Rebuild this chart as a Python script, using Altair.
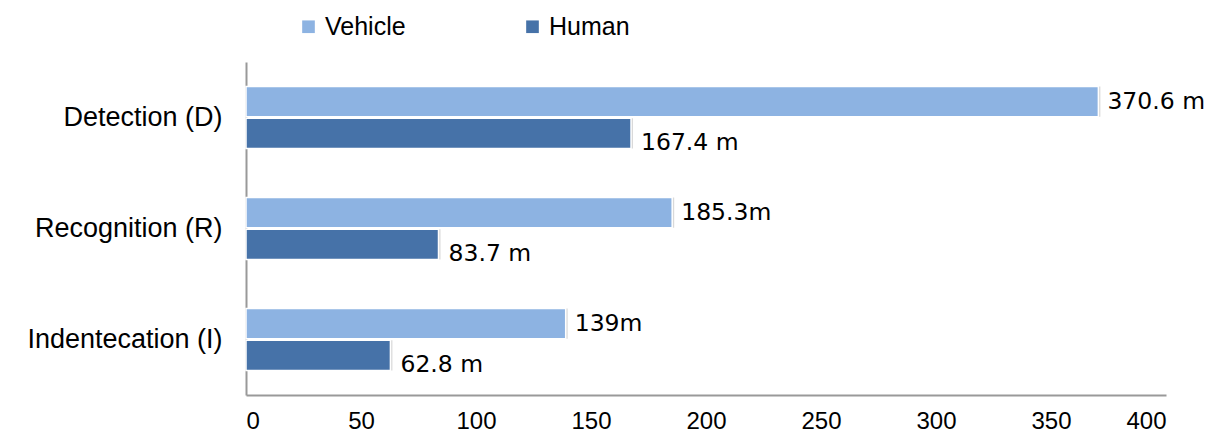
import altair as alt
import pandas as pd

categories = ["Detection (D)", "Recognition (R)", "Indentecation (I)"]
vehicle = [370.6, 185.3, 139.0]
human = [167.4, 83.7, 62.8]
vehicle_labels = ["370.6 m", "185.3m", "139m"]
human_labels = ["167.4 m", "83.7 m", "62.8 m"]
series = ["Vehicle", "Human"]
colors = ["#8DB3E2", "#4672A8"]

rows = []
for c, v, vl in zip(categories, vehicle, vehicle_labels):
    rows.append({"cat": c, "series": "Vehicle", "value": v, "label": vl})
for c, h, hl in zip(categories, human, human_labels):
    rows.append({"cat": c, "series": "Human", "value": h, "label": hl})
df = pd.DataFrame(rows)

y = alt.Y("cat:N", sort=categories, title=None,
          scale=alt.Scale(paddingInner=0.44, paddingOuter=0.22),
          axis=alt.Axis(labelFont="Liberation Sans", labelFontSize=27, labelColor="#000000",
                        labelPadding=24, ticks=False, domainColor="#999999", domainWidth=2,
                        labelLimit=400))
yoff = alt.YOffset("series:N", sort=series, scale=alt.Scale(paddingInner=0.05))
x = alt.X("value:Q", title=None,
          scale=alt.Scale(domain=[0, 400], nice=False),
          axis=alt.Axis(values=[0, 50, 100, 150, 200, 250, 300, 350, 400], grid=False, ticks=False,
                        labelFont="Liberation Sans", labelFontSize=24, labelColor="#000000",
                        labelPadding=14, domainColor="#999999", domainWidth=2))
color = alt.Color("series:N", sort=series,
                  scale=alt.Scale(domain=series, range=colors),
                  legend=alt.Legend(title=None, orient="none", legendX=50, legendY=-48,
                                    direction="horizontal", symbolType="square", symbolSize=160,
                                    symbolStrokeWidth=0, labelFont="Liberation Sans",
                                    labelFontSize=25, labelColor="#000000", columnPadding=114,
                                    labelOffset=4))

base = alt.Chart(df)

shadow = base.mark_bar(color="#000000", opacity=0.15, xOffset=2, yOffset=3).encode(
    x=x, y=y, yOffset=yoff)
bars = base.mark_bar(stroke="white", strokeWidth=1.5).encode(
    x=x, y=y, yOffset=yoff, color=color)
vtext = base.transform_filter(alt.datum.series == "Vehicle").mark_text(
    align="left", baseline="middle", dx=9, dy=0, font="DejaVu Sans", fontSize=23.5, color="#000000"
).encode(x=x, y=y, yOffset=yoff, text="label:N")
htext = base.transform_filter(alt.datum.series == "Human").mark_text(
    align="left", baseline="middle", dx=10, dy=10, font="DejaVu Sans", fontSize=23.5, color="#000000"
).encode(x=x, y=y, yOffset=yoff, text="label:N")

chart = alt.layer(shadow, bars, vtext, htext).properties(
    width=920, height=333, padding={"left": 18, "top": 6, "right": 5, "bottom": 2}
).configure(background="white", view=alt.ViewConfig(stroke=None))

chart.save("out.html", embed_options={"renderer": "svg", "actions": False})
